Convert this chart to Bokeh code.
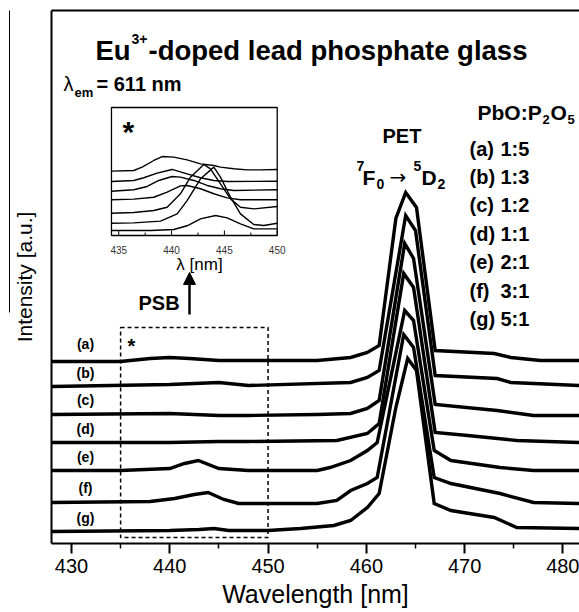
from bokeh.plotting import figure
from bokeh.models import Range1d, LinearAxis, FixedTicker, Label, Arrow, NormalHead
from bokeh.core.properties import value
from bokeh.embed import file_html
from bokeh.resources import INLINE

FONT = "Liberation Sans"

# ---------------- data: main excitation spectra (stacked, a.u.) ----------------
a_wl = [428, 435, 438, 440, 442, 445, 448, 455, 458.4, 460.1, 461.3, 463.0, 464.0, 465.1, 467.0, 473.0, 474.7, 477.7, 481.7]
a_int = [182, 182, 185, 186, 185, 183, 183, 183, 186, 191, 198, 325, 351, 336, 193, 190, 186, 183, 183]

b_wl = [428, 440, 445, 448, 458.4, 460.1, 461.3, 464.0, 465.0, 467.0, 473.3, 474.7, 481.7]
b_int = [157, 159, 161, 158, 161, 166, 173, 328, 313, 168, 165, 161, 158]

c_wl = [428, 440, 445, 448, 455, 458.4, 460.1, 461.3, 463.9, 464.8, 467.0, 473.3, 477.0, 481.7]
c_int = [129, 130, 128, 128, 129, 130, 135, 143, 300, 285, 139, 133, 128, 128]

d_wl = [428, 440, 445, 448, 457.0, 460.1, 461.3, 463.8, 464.8, 467.0, 470.3, 475.3, 481.7]
d_int = [101, 101, 102, 102, 103, 110, 120, 270, 256, 111, 108, 103, 101]

e_wl = [428, 435, 440, 441.5, 442.9, 445, 448, 455, 456.3, 458.4, 460.1, 461.1, 463.9, 464.8, 466.9, 468.6, 473.6, 477.0, 481.7]
e_int = [73, 73, 75, 80, 83, 75, 73, 73, 76, 83, 93, 101, 233, 223, 93, 83, 76, 73, 73]

f_wl = [428, 438, 440.5, 442.5, 443.9, 445.5, 447, 455, 457, 458.4, 460.1, 461.1, 463.8, 464.8, 466.9, 468.6, 473.6, 477.0, 481.7]
f_int = [41, 42, 45, 49, 51, 44, 40, 40, 43, 53, 60, 66, 209, 196, 66, 60, 50, 41, 40]

g_wl = [428, 440, 443, 444.5, 446, 450, 453.3, 456.7, 458.4, 460.1, 461.3, 463.0, 464.2, 465.1, 466.9, 468.6, 473.0, 475.3, 481.7]
g_int = [12, 13, 14, 15, 13, 13, 15, 18, 23, 36, 50, 136, 185, 173, 40, 33, 26, 16, 15]

curve_labels = ["(a)", "(b)", "(c)", "(d)", "(e)", "(f)", "(g)"]
ratios = ["1:5", "1:3", "1:2", "1:1", "2:1", "3:1", "5:1"]

x_ticks = [430, 440, 450, 460, 470, 480]
x_minor = [435, 445, 455, 465, 475]

# PSB region marked by the dashed box
psb_wl = [435, 450]
psb_int = [6, 216]

# ---------------- data: inset (PSB region, a.u.) ----------------
ia_wl = [434.31, 436.42, 437.21, 438.32, 439.11, 440.21, 441.47, 442.74, 444.0, 444.63, 445.89, 447.16, 448.42, 450]
ia_int = [50.3, 50.8, 53.4, 58.6, 61.7, 61.2, 59.1, 56.0, 54.7, 53.4, 52.1, 51.3, 51.3, 51.6]

ib_wl = [434.31, 436.42, 437.37, 438.63, 440.05, 441.47, 442.74, 444.0, 445.26, 450]
ib_int = [42.2, 43.0, 45.1, 48.7, 51.6, 48.2, 45.1, 43.0, 42.2, 42.4]

ic_wl = [434.31, 436.42, 437.69, 438.79, 440.05, 440.84, 442.11, 443.37, 444.63, 445.89, 450]
ic_int = [34.6, 35.7, 38.3, 43.0, 46.1, 45.6, 43.0, 39.1, 36.5, 35.2, 35.7]

id_wl = [434.31, 436.42, 438.32, 439.58, 440.84, 441.47, 442.74, 444.0, 445.26, 446.52, 450]
id_int = [27.9, 28.4, 29.9, 33.9, 38.8, 39.1, 36.5, 32.6, 29.4, 27.9, 27.9]

ie_wl = [434.31, 436.42, 438.32, 439.58, 440.84, 441.79, 443.05, 443.68, 444.63, 445.58, 446.52, 447.78, 450]
ie_int = [17.4, 18.0, 19.5, 22.1, 32.6, 45.6, 55.5, 52.1, 40.4, 28.6, 22.1, 20.8, 22.7]

if_wl = [434.31, 436.42, 438.95, 440.53, 441.47, 442.74, 444.0, 444.63, 445.58, 446.52, 447.78, 448.73, 450]
if_int = [9.6, 9.9, 11.2, 16.9, 27.3, 44.3, 53.4, 45.6, 29.9, 16.9, 8.6, 7.8, 9.6]

ig_wl = [434.31, 438.0, 440.21, 441.47, 442.74, 444.16, 445.26, 446.52, 447.78, 450]
ig_int = [3.9, 3.9, 4.7, 7.6, 13.0, 15.6, 13.8, 9.1, 5.2, 5.2]

inset_ticks = [435, 440, 445, 450]
inset_minor = [437.5, 442.5, 447.5]
inset_dom_x = [434.31, 450]
inset_dom_y = [0, 100]

# ---------------- layout (page pixels) ----------------
W, H = 579, 612
PAGE_X0, PAGE_Y0 = 0, 0
FRAME_L, FRAME_T, FRAME_B = 51, 10, 543
X_RANGE = (427.97, 481.68)
Y_RANGE = (0, 533)
# inset box expressed in main-plot coordinates
INSET_BOX_X = (434.07, 450.93)
INSET_BOX_Y = (308, 436)


def extra_range(main, box, dom):
    k = (dom[1] - dom[0]) / (box[1] - box[0])
    return Range1d(dom[0] + (main[0] - box[0]) * k, dom[0] + (main[1] - box[0]) * k)


p = figure(width=W, height=H, x_range=Range1d(*X_RANGE), y_range=Range1d(*Y_RANGE),
           output_backend="svg", toolbar_location=None, title=None,
           min_border_left=FRAME_L - PAGE_X0, min_border_right=0,
           min_border_top=FRAME_T - PAGE_Y0, min_border_bottom=H - (FRAME_B - PAGE_Y0))
p.outline_line_color = None
p.xgrid.visible = False
p.ygrid.visible = False
p.background_fill_color = "white"
p.border_fill_color = "white"

p.extra_x_ranges = {"ix": extra_range(X_RANGE, INSET_BOX_X, inset_dom_x)}
p.extra_y_ranges = {"iy": extra_range(Y_RANGE, INSET_BOX_Y, inset_dom_y)}

# x axis
xa = p.xaxis[0]
xa.ticker = FixedTicker(ticks=x_ticks, minor_ticks=x_minor)
xa.axis_line_width = 2
xa.major_tick_line_width = 2
xa.minor_tick_line_width = 1.5
xa.major_tick_out = 10
xa.major_tick_in = 0
xa.minor_tick_out = 5
xa.minor_tick_in = 0
xa.major_label_text_font = FONT
xa.major_label_text_font_size = "20px"
xa.major_label_text_color = "black"
xa.major_label_standoff = 5
xa.axis_label = "Wavelength [nm]"
xa.axis_label_text_font = FONT
xa.axis_label_text_font_size = "25px"
xa.axis_label_text_font_style = "normal"
xa.axis_label_text_color = "black"
xa.axis_label_standoff = 4

# y axis (no ticks)
ya = p.yaxis[0]
ya.ticker = FixedTicker(ticks=[])
ya.axis_line_width = 2
ya.major_tick_out = 0
ya.major_tick_in = 0
ya.minor_tick_out = 0
ya.minor_tick_in = 0
ya.axis_label = "Intensity [a.u.]"
ya.axis_label_text_font = FONT
ya.axis_label_text_font_size = "21px"
ya.axis_label_text_font_style = "normal"
ya.axis_label_text_color = "black"
ya.axis_label_standoff = 16

# thin vertical line left of the y label (as in the source image)
art = LinearAxis(ticker=FixedTicker(ticks=[]), bounds=(231, 533), axis_line_width=1,
                 major_tick_out=0, major_tick_in=0, minor_tick_out=0, minor_tick_in=0)
p.add_layout(art, "left")

# top frame line
top = LinearAxis(ticker=FixedTicker(ticks=[]), axis_line_width=2,
                 major_tick_out=0, major_tick_in=0, minor_tick_out=0, minor_tick_in=0)
p.add_layout(top, "above")

# main curves
for wl, it in [(a_wl, a_int), (b_wl, b_int), (c_wl, c_int), (d_wl, d_int),
               (e_wl, e_int), (f_wl, f_int), (g_wl, g_int)]:
    p.line(wl, it, line_width=3.4, line_color="black", line_join="miter")

# dashed PSB box
p.quad(left=psb_wl[0], right=psb_wl[1], bottom=psb_int[0], top=psb_int[1],
       fill_color=None, line_color="black", line_dash="4 3", line_width=1.5)

# inset
p.quad(left=inset_dom_x[0], right=inset_dom_x[1], bottom=inset_dom_y[0], top=inset_dom_y[1],
       fill_color="white", line_color="black", line_width=1.3,
       x_range_name="ix", y_range_name="iy")
for wl, it in [(ia_wl, ia_int), (ib_wl, ib_int), (ic_wl, ic_int), (id_wl, id_int),
               (ie_wl, ie_int), (if_wl, if_int), (ig_wl, ig_int)]:
    p.line(wl, it, line_width=1.4, line_color="black", x_range_name="ix", y_range_name="iy")
p.segment(x0=inset_ticks, y0=[0] * len(inset_ticks), x1=inset_ticks, y1=[4] * len(inset_ticks),
          line_color="black", line_width=1, x_range_name="ix", y_range_name="iy")
p.segment(x0=inset_minor, y0=[0] * len(inset_minor), x1=inset_minor, y1=[2.3] * len(inset_minor),
          line_color="black", line_width=1, x_range_name="ix", y_range_name="iy")
p.text(x=inset_ticks, y=[-11.7] * len(inset_ticks), text=[str(t) for t in inset_ticks],
       text_font=value(FONT), text_font_size="10px", text_align="center",
       text_baseline="alphabetic", text_color="#333333", x_range_name="ix", y_range_name="iy")


def lab(px, py, text, size, bold=True, align="left", baseline="alphabetic", color="black", font=FONT):
    p.add_layout(Label(x=px - FRAME_L, y=FRAME_B - py, x_units="screen", y_units="screen",
                       text=text, text_font=font, text_font_size=f"{size}px",
                       text_font_style="bold" if bold else "normal",
                       text_align=align, text_baseline=baseline, text_color=color))


# title
lab(95, 50, "Eu", 27.5)
lab(131, 38, "3+", 14)
lab(148, 50, "-doped lead phosphate glass", 27.5)
# lambda_em
lab(63, 83, "λ", 20, bold=False)
lab(74, 92, "em", 13)
lab(96, 83, "= 611 nm", 20)
# inset texts
lab(122, 131, "*", 30)
lab(199, 264, "λ [nm]", 17, bold=False, align="center")
# PSB
lab(138, 302, "PSB", 20)
p.add_layout(Arrow(end=NormalHead(size=12, fill_color="black", line_color="black", line_width=1),
                   x_start=189 - FRAME_L, y_start=FRAME_B - 314, x_end=189 - FRAME_L, y_end=FRAME_B - 272,
                   start_units="screen", end_units="screen", line_width=2.5, line_color="black"))
lab(127, 345, "*", 20)
# PET transition
lab(382, 135, "PET", 20)
lab(356, 165, "7", 14)
lab(362, 177, "F", 21)
lab(376, 183, "0", 14)
lab(389, 176, "→", 20, bold=False, font="DejaVu Sans")
lab(413, 165, "5", 14)
lab(421, 177, "D", 21)
lab(437, 183, "2", 14)
# composition legend
lab(477, 112, "PbO:P", 21)
lab(542, 119, "2", 13)
lab(550, 112, "O", 21)
lab(567, 119, "5", 13)
for i, (cl, r) in enumerate(zip(curve_labels, ratios)):
    lab(469, 148 + 28.4 * i, cl, 20)
    lab(500, 148 + 28.4 * i, r, 20)
# curve labels at the left
label_centers = [343, 372, 399, 428, 456, 487, 517]
for cl, cy in zip(curve_labels, label_centers):
    lab(85, cy, cl, 14, align="center", baseline="middle")

open("out.html", "w").write(file_html(p, INLINE))
